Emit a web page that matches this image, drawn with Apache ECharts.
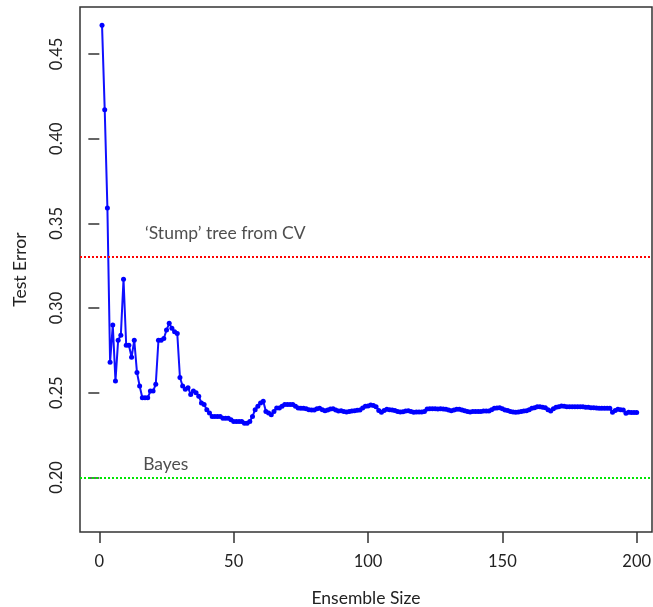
<!DOCTYPE html>
<html>
<head>
<meta charset="utf-8">
<script src="https://cdn.jsdelivr.net/npm/echarts@6/dist/echarts.min.js"></script>
<style>
  html, body { margin: 0; padding: 0; background: #fff; }
  #chart { width: 653px; height: 607px; }
</style>
</head>
<body>
<div id="chart"></div>
<script>
// test error per ensemble size (1..200)
const testError = [
  0.467, 0.417, 0.359, 0.268, 0.290, 0.257, 0.281, 0.284, 0.317, 0.278,
  0.278, 0.271, 0.281, 0.262, 0.254, 0.247, 0.247, 0.247, 0.251, 0.251,
  0.255, 0.281, 0.281, 0.282, 0.287, 0.291, 0.288, 0.286, 0.285, 0.259,
  0.254, 0.252, 0.253, 0.249, 0.251, 0.250, 0.248, 0.244, 0.243, 0.240,
  0.238, 0.236, 0.236, 0.236, 0.236, 0.235, 0.235, 0.235, 0.234, 0.233,
  0.233, 0.233, 0.233, 0.232, 0.232, 0.233, 0.236, 0.240, 0.242, 0.244,
  0.245, 0.239, 0.238, 0.237, 0.239, 0.241, 0.241, 0.242, 0.243, 0.243,
  0.243, 0.243, 0.242, 0.241, 0.2408, 0.2408, 0.2405, 0.2400, 0.2398, 0.2398,
  0.2405, 0.2408, 0.2400, 0.2394, 0.2398, 0.2404, 0.2406, 0.2398, 0.2392, 0.2394,
  0.2390, 0.2387, 0.2390, 0.2392, 0.2394, 0.2396, 0.2398, 0.2410, 0.2420, 0.2422,
  0.2428, 0.2425, 0.2418, 0.2395, 0.2385, 0.2395, 0.2402, 0.2400, 0.2398, 0.2395,
  0.2390, 0.2387, 0.2388, 0.2392, 0.2394, 0.2390, 0.2385, 0.2387, 0.2387, 0.2387,
  0.2390, 0.2404, 0.2405, 0.2406, 0.2406, 0.2404, 0.2406, 0.2404, 0.2402, 0.2398,
  0.2394, 0.2398, 0.2402, 0.2402, 0.2398, 0.2394, 0.2390, 0.2387, 0.2389, 0.2389,
  0.2389, 0.2390, 0.2392, 0.2392, 0.2392, 0.2400, 0.2408, 0.2410, 0.2412, 0.2405,
  0.2398, 0.2395, 0.2390, 0.2387, 0.2385, 0.2387, 0.2390, 0.2392, 0.2394, 0.2400,
  0.2408, 0.2412, 0.2418, 0.2418, 0.2415, 0.2412, 0.2400, 0.2392, 0.2405, 0.2414,
  0.2418, 0.2422, 0.2420, 0.2418, 0.2418, 0.2418, 0.2418, 0.2418, 0.2418, 0.2418,
  0.2415, 0.2414, 0.2412, 0.2412, 0.2410, 0.2408, 0.2408, 0.2408, 0.2408, 0.2408,
  0.2385, 0.2395, 0.2402, 0.2400, 0.2398, 0.2379, 0.2385, 0.2383, 0.2383, 0.2383
];
const ensembleSize = testError.map((v, i) => i + 1);

const xTicks = [0, 50, 100, 150, 200];
const yTicks = [0.20, 0.25, 0.30, 0.35, 0.40, 0.45];

const stumpError = 0.3335;
const bayesError = 0.20;

const notes = [
  [17, 0.3441, '\u2018Stump\u2019 tree from CV'],
  [16.3, 0.208, 'Bayes']
];

const font = 'Lato, "Open Sans", sans-serif';
const ink = '#222';

let chart = echarts.init(document.getElementById('chart'));

let option = {
  animation: false,
  backgroundColor: '#fff',
  grid: {
    left: 80, right: 1, top: 7, bottom: 75,
    containLabel: false,
    outerBoundsMode: 'none',
    show: true,
    borderColor: '#333',
    borderWidth: 1.5
  },
  xAxis: {
    type: 'value',
    min: -7.2,
    max: 205.7,
    name: 'Ensemble Size',
    nameLocation: 'middle',
    nameGap: 57,
    nameTextStyle: { fontFamily: font, fontSize: 17.5, color: ink },
    axisLine: { show: false },
    axisTick: { show: true, customValues: xTicks, length: 11, lineStyle: { color: '#333', width: 1.5 } },
    axisLabel: { customValues: xTicks, margin: 21, fontFamily: font, fontSize: 16.5, color: ink },
    splitLine: { show: false }
  },
  yAxis: {
    type: 'value',
    min: 0.1678,
    max: 0.4777,
    name: 'Test Error',
    nameLocation: 'middle',
    nameRotate: 90,
    nameGap: 51,
    nameTextStyle: { fontFamily: font, fontSize: 17.5, color: ink },
    axisLine: { show: false },
    axisTick: { show: true, customValues: yTicks, length: 11, lineStyle: { color: '#333', width: 1.5 } },
    axisLabel: {
      customValues: yTicks,
      rotate: 90,
      margin: 15,
      fontFamily: font,
      fontSize: 16.5,
      color: ink,
      formatter: v => v.toFixed(2)
    },
    splitLine: { show: false }
  },
  series: [
    {
      type: 'line',
      data: ensembleSize.map((n, i) => [n, testError[i]]),
      symbol: 'circle',
      symbolSize: 5,
      showAllSymbol: true,
      lineStyle: { color: '#1010ff', width: 2 },
      itemStyle: { color: '#0000ff' },
      markLine: {
        silent: true,
        symbol: 'none',
        label: { show: false },
        lineStyle: { type: 'dotted', width: 2 },
        data: [
          { yAxis: stumpError, lineStyle: { color: '#ff0000', type: 'dotted', width: 2 } },
          { yAxis: bayesError, lineStyle: { color: '#00e600', type: 'dotted', width: 2 } }
        ]
      }
    },
    {
      type: 'scatter',
      data: notes,
      symbolSize: 0,
      silent: true,
      label: {
        show: true,
        position: 'right',
        distance: 0,
        formatter: p => p.data[2],
        fontFamily: font,
        fontSize: 17.5,
        color: ink
      }
    }
  ]
};

chart.setOption(option);
</script>
</body>
</html>
